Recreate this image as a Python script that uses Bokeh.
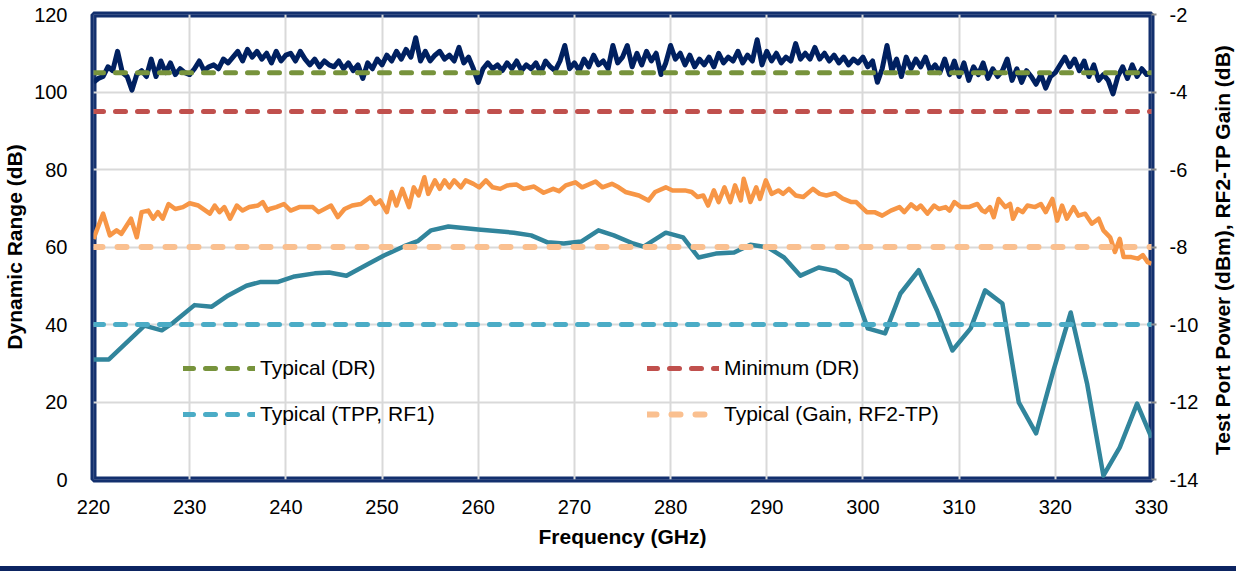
import math
from bokeh.plotting import figure
from bokeh.models import (Range1d, LinearAxis, FixedTicker, Legend, LegendItem,
                          BoxAnnotation, Div)
from bokeh.core.properties import value
from bokeh.layouts import column, row
from bokeh.embed import file_html
from bokeh.resources import INLINE

# ---------------- data ----------------
# Dynamic range (dB), sampled every 0.5 GHz from 220 to 330 GHz (left axis)
dr_values = [
    102.5, 103.5, 104, 106.5, 105.5, 110.5, 105, 104, 100.5, 104.5,
    105.5, 104, 108.5, 104, 108, 105, 107.5, 104.5, 106, 105,
    104.5, 106, 108, 105.5, 106.5, 107, 106, 108.5, 107.5, 109,
    110.5, 108, 111, 109, 110.5, 108.5, 110, 107.5, 110.5, 108,
    109.5, 110, 108, 110.5, 108.5, 107, 108.5, 106.5, 108, 107,
    106.5, 108, 106, 107.5, 105.5, 107, 103.5, 107.5, 106, 108.5,
    107, 109.5, 108, 110.5, 108.5, 111, 109, 114, 108, 110.5,
    108, 109.5, 110.5, 108.5, 109.5, 108, 111.5, 107.5, 109, 106,
    102.5, 106, 107.5, 106, 107, 105.5, 107.5, 106, 108, 105.5,
    107, 106, 107.5, 105, 108, 106.5, 105.5, 108, 112, 106,
    107.5, 105.5, 108.5, 106.5, 109.5, 107, 108, 106, 112, 107.5,
    109, 112, 106.5, 110, 107, 110.5, 108, 110, 104.5, 107.5,
    112, 108.5, 110, 107, 109.5, 106.5, 108.5, 107, 109, 106.5,
    110, 107.5, 109, 108, 110.5, 107.5, 109.5, 108, 113.5, 107,
    110.5, 108, 110, 107.5, 109, 108, 112.5, 108.5, 110, 108.5,
    111.5, 108.5, 110, 108, 109.5, 107.5, 109, 107, 108.5, 107.5,
    109, 106.5, 108, 102.5, 106, 112, 105.5, 108.5, 104, 109,
    106, 108.5, 106.5, 109, 105.5, 107, 105, 108.5, 104.5, 108,
    104, 107.5, 103, 106.5, 104.5, 107.5, 103.5, 106, 104, 105.5,
    108.5, 103, 106, 102.5, 105.5, 104, 102, 104.5, 101, 104,
    105, 107, 109, 106.5, 108.5, 105.5, 108, 104, 107, 103,
    104.5, 103, 99.5, 104, 106.5, 103.5, 107, 104, 106, 104.5, 105,
]
dr_freq = [220 + 0.5 * i for i in range(len(dr_values))]

# RF2-TP gain (dB), right axis
gain_freq = [
    220.0, 221.0, 221.7, 222.4, 222.9, 223.9, 224.5, 225.0, 225.7, 226.2,
    226.7, 227.2, 227.8, 228.5, 229.3, 230.0, 230.9, 232.1, 232.6, 233.1,
    233.6, 234.2, 234.9, 235.5, 236.2, 237.1, 237.6, 238.1, 238.3, 239.0,
    239.8, 240.5, 241.4, 242.8, 243.4, 244.7, 245.4, 246.1, 246.9, 247.8,
    248.8, 249.3, 249.8, 250.5, 251.0, 251.5, 252.1, 252.8, 253.3, 253.8,
    254.4, 254.8, 255.5, 256.0, 256.5, 257.0, 257.5, 258.2, 258.7, 259.5,
    260.1, 260.8, 261.5, 262.3, 263.0, 264.0, 264.7, 265.8, 266.8, 267.8,
    268.4, 269.1, 270.1, 270.8, 272.2, 272.9, 273.9, 274.6, 275.3, 276.7,
    277.7, 278.4, 279.5, 280.2, 281.5, 282.2, 282.8, 283.4, 283.9, 284.5,
    285.0, 285.6, 286.2, 286.7, 287.3, 287.6, 288.3, 288.9, 289.3, 289.9,
    290.5, 291.2, 291.7, 292.3, 293.0, 293.8, 294.8, 295.5, 296.2, 297.1,
    297.9, 298.8, 299.3, 300.4, 301.2, 302.0, 302.9, 303.8, 304.3, 305.0,
    305.6, 306.0, 306.7, 307.4, 307.9, 308.6, 309.0, 309.5, 310.2, 311.0,
    311.9, 312.4, 312.7, 313.2, 313.6, 314.1, 314.8, 315.3, 315.6, 316.1,
    316.6, 317.1, 317.9, 318.5, 319.0, 319.7, 320.2, 320.7, 321.2, 321.9,
    322.4, 323.1, 323.8, 324.5, 325.0, 325.7, 326.2, 326.7, 327.1, 327.9,
    328.6, 329.1, 329.6, 330.0,
]
gain_db = [
    -7.79, -7.14, -7.70, -7.57, -7.66, -7.27, -7.75, -7.10, -7.06, -7.27,
    -7.10, -7.27, -6.89, -7.02, -6.97, -6.87, -6.93, -7.14, -6.93, -7.10,
    -6.97, -7.27, -6.93, -7.06, -6.97, -6.93, -6.84, -7.06, -7.02, -6.97,
    -6.89, -7.06, -6.97, -6.97, -7.10, -6.93, -7.23, -7.02, -6.93, -6.89,
    -6.71, -6.89, -6.80, -7.10, -6.58, -6.93, -6.50, -6.97, -6.46, -6.67,
    -6.20, -6.63, -6.28, -6.50, -6.28, -6.46, -6.28, -6.46, -6.28, -6.37,
    -6.46, -6.28, -6.46, -6.50, -6.41, -6.39, -6.50, -6.44, -6.60, -6.50,
    -6.56, -6.41, -6.33, -6.46, -6.31, -6.46, -6.37, -6.46, -6.58, -6.67,
    -6.80, -6.58, -6.46, -6.54, -6.54, -6.58, -6.71, -6.67, -6.93, -6.54,
    -6.84, -6.46, -6.84, -6.41, -6.80, -6.24, -6.84, -6.46, -6.76, -6.28,
    -6.63, -6.54, -6.63, -6.50, -6.67, -6.71, -6.50, -6.63, -6.67, -6.61,
    -6.75, -6.84, -6.84, -7.10, -7.10, -7.19, -7.06, -6.97, -7.10, -6.90,
    -7.02, -6.93, -7.14, -6.93, -7.02, -6.97, -7.06, -6.84, -6.97, -6.97,
    -6.89, -7.06, -7.10, -6.97, -7.23, -6.76, -6.97, -6.89, -7.27, -7.02,
    -7.10, -6.93, -6.97, -6.89, -7.10, -6.76, -7.32, -6.93, -7.27, -6.97,
    -7.19, -7.14, -7.40, -7.27, -7.57, -7.75, -8.13, -7.79, -8.26, -8.26,
    -8.30, -8.21, -8.39, -8.43,
]

# Test port power (dBm), right axis
tpp_freq = [
    220.0, 221.6, 225.3, 227.1, 228.3, 230.5, 232.3, 234.0, 235.9, 237.4,
    239.2, 240.9, 243.0, 244.5, 246.3, 248.6, 250.2, 252.3, 253.7, 255.1,
    256.9, 260.0, 263.7, 265.5, 267.2, 268.9, 270.7, 272.5, 274.1, 276.1,
    277.2, 279.5, 281.3, 282.9, 284.7, 286.6, 288.3, 290.1, 291.8, 293.5,
    295.4, 297.2, 298.7, 300.5, 302.3, 303.9, 305.8, 307.7, 309.3, 311.2,
    312.7, 314.5, 316.2, 318.0, 319.8, 321.6, 323.3, 325.0, 326.7, 328.5,
    330.0,
]
tpp_dbm = [
    -10.90, -10.90, -10.03, -10.15, -9.95, -9.50, -9.54, -9.25, -9.00, -8.90,
    -8.90, -8.76, -8.68, -8.66, -8.74, -8.43, -8.22, -7.98, -7.85, -7.57,
    -7.47, -7.55, -7.63, -7.70, -7.88, -7.91, -7.86, -7.57, -7.70, -7.91,
    -7.99, -7.63, -7.75, -8.27, -8.17, -8.14, -7.94, -8.01, -8.27, -8.74,
    -8.53, -8.62, -8.86, -10.10, -10.23, -9.20, -8.60, -9.64, -10.67, -10.10,
    -9.12, -9.46, -12.01, -12.81, -11.19, -9.69, -11.52, -13.90, -13.17, -12.04,
    -12.92,
]

# Specification levels
freq_span = [220, 330]
typical_dr = 105
minimum_dr = 95
typical_tpp = -10
typical_gain = -8

x_ticks = [220, 230, 240, 250, 260, 270, 280, 290, 300, 310, 320, 330]
left_ticks = [0, 20, 40, 60, 80, 100, 120]
right_ticks = [-14, -12, -10, -8, -6, -4, -2]
right_tick_labels = ["-14", "-12", "-10", "-8", "-6", "-4", "-2"]
right_title = "Test Port Power (dBm),  RF2-TP Gain (dB)"

# ---------------- styling ----------------
FONT = "Liberation Sans"
NAVY = "#002060"
FRAME = "#13306e"

p = figure(width=1204, height=566, output_backend="svg", toolbar_location=None,
           x_range=Range1d(220, 330), y_range=Range1d(0, 120),
           min_border_left=92, min_border_right=53, min_border_top=14,
           min_border_bottom=87)
p.extra_y_ranges = {"right": Range1d(-14, -2)}
p.background_fill_color = "white"
p.border_fill_color = "white"
p.outline_line_color = FRAME
p.outline_line_width = 6

# axes
p.xaxis.ticker = FixedTicker(ticks=x_ticks)
p.yaxis.ticker = FixedTicker(ticks=left_ticks)
p.xaxis.axis_label = "Frequency (GHz)"
p.yaxis.axis_label = "Dynamic Range (dB)"

right_axis = LinearAxis(y_range_name="right", ticker=FixedTicker(ticks=right_ticks))
right_axis.major_label_overrides = {t: s for t, s in zip(right_ticks, right_tick_labels)}
p.add_layout(right_axis, "right")

for ax in [p.xaxis[0], p.yaxis[0], right_axis]:
    ax.axis_line_color = None
    ax.major_label_text_font = FONT
    ax.major_label_text_font_size = "20px"
    ax.major_label_text_color = "#000000"
    ax.axis_label_text_font = FONT
    ax.axis_label_text_font_size = "21px"
    ax.axis_label_text_font_style = "bold"
    ax.axis_label_text_color = "#000000"
    ax.minor_tick_line_color = None

p.xaxis.major_tick_line_color = None
p.yaxis.major_tick_line_color = None
p.xaxis.major_label_standoff = 14
p.xaxis.axis_label_standoff = 8
p.yaxis[0].major_label_standoff = 20
p.yaxis[0].axis_label_standoff = 5
right_axis.major_tick_line_color = "#8c8c8c"
right_axis.major_tick_line_width = 2
right_axis.major_tick_in = 0
right_axis.major_tick_out = 5
right_axis.major_label_standoff = 13

# grid
p.xgrid.ticker = FixedTicker(ticks=x_ticks)
p.ygrid.ticker = FixedTicker(ticks=left_ticks)
p.xgrid.grid_line_color = "#d9d9d9"
p.ygrid.grid_line_color = "#d9d9d9"
p.xgrid.grid_line_width = 2
p.ygrid.grid_line_width = 2

# ---------------- data lines ----------------
p.line(dr_freq, dr_values, line_color=NAVY, line_width=5, line_join="round")
p.line(gain_freq, gain_db, y_range_name="right", line_color="#f79646",
       line_width=4.5, line_join="round")
p.line(tpp_freq, tpp_dbm, y_range_name="right", line_color="#31859c",
       line_width=4.5, line_join="round")

# ---------------- spec lines ----------------
r_typ_dr = p.line(freq_span, [typical_dr, typical_dr], line_color="#77933c",
                  line_width=5, line_dash="10 12", line_cap="round")
r_min_dr = p.line(freq_span, [minimum_dr, minimum_dr], line_color="#c0504d",
                  line_width=5, line_dash="10 12", line_cap="round")
r_typ_tpp = p.line(freq_span, [typical_tpp, typical_tpp], y_range_name="right",
                   line_color="#4bacc6", line_width=5, line_dash="10 12",
                   line_cap="round")
r_typ_gain = p.line(freq_span, [typical_gain, typical_gain], y_range_name="right",
                    line_color="#fac090", line_width=6, line_dash="9 15",
                    line_cap="round")

# inner white line of the double frame border
p.add_layout(BoxAnnotation(left=220, right=330, bottom=0, top=120,
                           fill_alpha=0, line_color="white", line_width=1.2))

# ---------------- legends ----------------
def make_legend(items, loc):
    leg = Legend(items=items, location=loc, orientation="vertical")
    leg.background_fill_alpha = 0
    leg.border_line_color = None
    leg.padding = 0
    leg.margin = 0
    leg.spacing = 22
    leg.glyph_width = 72
    leg.glyph_height = 20
    leg.label_height = 20
    leg.label_standoff = 5
    leg.label_text_font = FONT
    leg.label_text_font_size = "21px"
    leg.label_text_color = "#000000"
    return leg

leg1 = make_legend([LegendItem(label="Typical (DR)", renderers=[r_typ_dr]),
                    LegendItem(label="Typical (TPP, RF1)", renderers=[r_typ_tpp])],
                   (90, 53))
leg2 = make_legend([LegendItem(label="Minimum (DR)", renderers=[r_min_dr]),
                    LegendItem(label="Typical (Gain, RF2-TP)", renderers=[r_typ_gain])],
                   (554, 53))
p.add_layout(leg1, "center")
p.add_layout(leg2, "center")

# ---------------- right-hand axis title (reads bottom to top) ----------------
side = figure(width=32, height=566, output_backend="svg", toolbar_location=None,
              x_range=Range1d(0, 1), y_range=Range1d(0, 1),
              x_axis_type=None, y_axis_type=None,
              min_border_left=0, min_border_right=0, min_border_top=14,
              min_border_bottom=87)
side.outline_line_color = None
side.xgrid.visible = False
side.ygrid.visible = False
side.text(x=[0.55], y=[0.5], text=[right_title], angle=math.pi / 2,
          text_align="center", text_baseline="middle",
          text_font=value(FONT), text_font_size="21px", text_font_style="bold",
          text_color="#000000")

# bottom navy rule
bar = Div(text="", width=1236, height=5,
          styles={"background-color": "#0c2461", "margin": "0"})

layout = column(row(p, side, spacing=0), bar, spacing=0)
open("out.html", "w").write(file_html(layout, INLINE))
